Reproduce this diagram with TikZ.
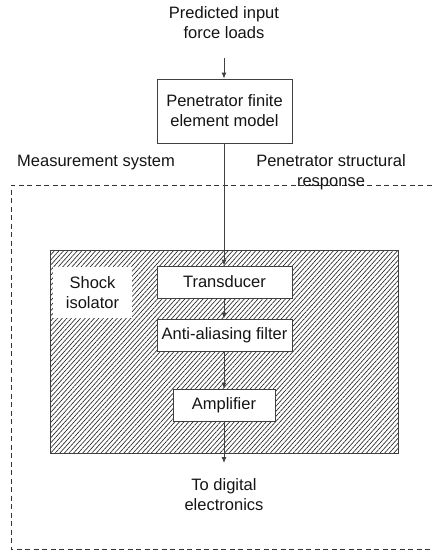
\documentclass[tikz,border=0pt]{standalone}
\usepackage{fontspec}
\setmainfont{Liberation Sans}
\usetikzlibrary{arrows.meta,patterns.meta}
\begin{document}
\begin{tikzpicture}[x=1pt,y=-1pt,
  every node/.style={font=\fontsize{16.5}{20}\selectfont, text=black!92, align=center, inner sep=0pt},
  blk/.style={draw=black!75, line width=0.9pt, fill=white},
  conn/.style={draw=black!75, line width=0.9pt, -{Latex[length=6pt,width=5pt]}},
  plain/.style={draw=black!75, line width=0.9pt}
]
\useasboundingbox (0,0) rectangle (432,550);
% measurement system dashed boundary
\draw[black!80, line width=1pt, dash pattern=on 5pt off 3.5pt] (440,185) -- (11,185) -- (11,549) -- (440,549);
\node[anchor=west] (mlabel) at (17,163) {Measurement system};
\node (rlabel) at (331,172) {Penetrator structural\\response};
% shock isolator (hatched)
\node[draw=black!75, line width=0.9pt, minimum width=348pt, minimum height=203pt,
      pattern={Lines[angle=48,distance=3.4pt,line width=0.65pt]}, pattern color=black!85] (iso) at (224,351.5) {};
\node[fill=white, minimum width=79pt, minimum height=51pt] (shock) at (92.5,292.5) {Shock\\isolator};
% top input
\node (inp) at (224,23) {Predicted input\\force loads};
\coordinate (inarrow) at (224,58);
\node[blk, minimum width=135pt, minimum height=64pt] (pfem) at (224.5,111) {Penetrator finite\\element model};
\node[blk, minimum width=135pt, minimum height=32pt] (trans) at (224.5,282) {Transducer};
\node[blk, minimum width=135pt, minimum height=32pt] (aaf) at (224.5,335) {Anti-aliasing filter};
\node[blk, minimum width=102pt, minimum height=32pt] (amp) at (224,405) {Amplifier};
\node (outp) at (224,495) {To digital\\electronics};
\coordinate (outarrow) at (224,463);
% connectors
\draw[conn] (inarrow) -- (pfem.north -| inarrow);
\draw[conn] (pfem.south -| inarrow) -- (trans.north -| inarrow);
\draw[conn] (trans.south -| inarrow) -- (aaf.north -| inarrow);
\draw[conn] (aaf.south -| inarrow) -- (amp.north -| inarrow);
\draw[conn] (amp.south -| inarrow) -- (outarrow);
\end{tikzpicture}
\end{document}
